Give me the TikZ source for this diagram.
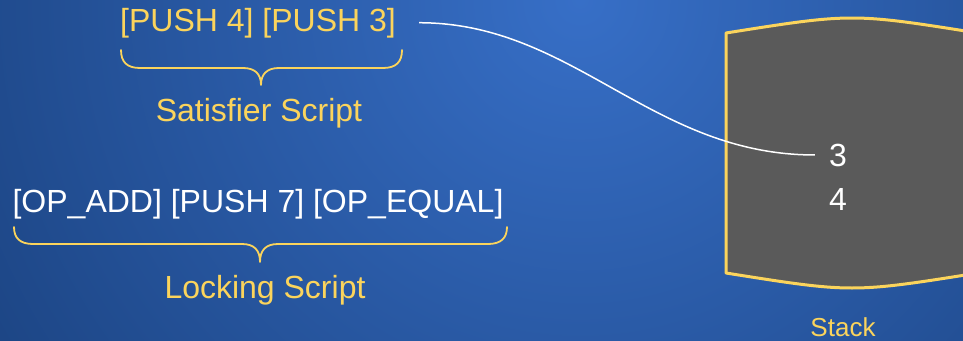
\documentclass[tikz,border=0pt]{standalone}
\usepackage{fontspec}
\setmainfont{Liberation Sans}
\definecolor{bgin}{HTML}{376FC7}
\definecolor{bgout}{HTML}{1B4381}
\definecolor{goldtxt}{HTML}{FBD45C}
\definecolor{stackgray}{HTML}{5A5A5A}
\tikzset{
  bigtxt/.style={font=\fontsize{32}{38}\selectfont, inner sep=3pt, anchor=base},
  captxt/.style={font=\fontsize{32}{38}\selectfont, text=goldtxt, inner sep=3pt, anchor=base},
  smalltxt/.style={font=\fontsize{26}{31}\selectfont, text=goldtxt, inner sep=3pt, anchor=base},
  bracestyle/.style={draw=goldtxt, line width=1.8pt, line cap=round, line join=round},
  link/.style={draw=white, line width=1.5pt}
}
\begin{document}
\begin{tikzpicture}[x=1pt,y=-1pt]
\useasboundingbox (0,0) rectangle (963,340);
\begin{scope}
  \clip (0,0) rectangle (963,340);
  \shade[inner color=bgin, outer color=bgout] (580,0) circle (720);
  % stack
  \path[fill=stackgray, draw=goldtxt, line width=3pt, line join=round]
    (726,33) .. controls (852,13) .. (978,33) -- (978,273)
    .. controls (852,293) .. (726,273) -- cycle;
\end{scope}
% texts
\node[bigtxt, text=goldtxt] (sat) at (258,31) {[PUSH 4] [PUSH 3]};
\node[captxt] (satlbl) at (259,121) {Satisfier Script};
\node[bigtxt, text=white] (lock) at (258,212.5) {[OP\_ADD] [PUSH 7] [OP\_EQUAL]};
\node[captxt] (locklbl) at (265,298) {Locking Script};
\node[bigtxt, text=white] (three) at (838,166) {3};
\node[bigtxt, text=white] (four) at (838,210) {4};
\node[smalltxt] (stacklbl) at (843,336) {Stack};
% braces
\path[bracestyle]
  (121,50) .. controls (121,62) and (127,68) .. (140,68) -- (243,68)
  .. controls (255,68) and (261,74) .. (261,85)
  .. controls (261,74) and (267,68) .. (279,68) -- (383,68)
  .. controls (396,68) and (402,62) .. (402,50);
\path[bracestyle]
  (14,227) .. controls (14,238) and (20,244) .. (33,244) -- (242,244)
  .. controls (254,244) and (260,250) .. (260,262)
  .. controls (260,250) and (266,244) .. (278,244) -- (488,244)
  .. controls (501,244) and (507,238) .. (507,227);
% connector
\draw[link, shorten <=20pt, shorten >=11pt] (sat.east) to[out=0, in=180] (three.west);
\end{tikzpicture}
\end{document}
